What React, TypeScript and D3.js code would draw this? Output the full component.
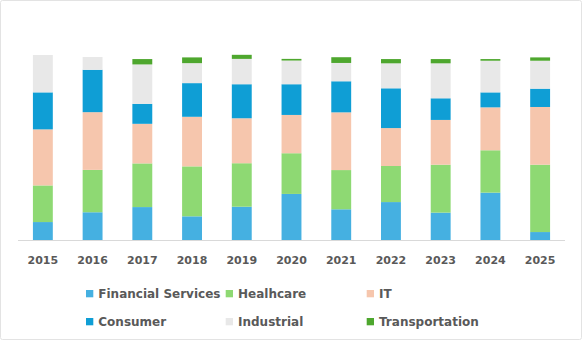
import React from "react";
import * as d3 from "d3";

const years = ["2015", "2016", "2017", "2018", "2019", "2020", "2021", "2022", "2023", "2024", "2025"];
const financialServices = [9.7, 15.0, 17.8, 12.8, 18.0, 24.9, 16.6, 20.5, 14.8, 25.6, 4.3];
const healthcare = [19.8, 22.9, 23.6, 27.0, 23.5, 22.0, 21.2, 19.5, 25.9, 22.9, 36.4];
const it = [30.3, 31.2, 21.4, 26.8, 24.3, 20.7, 31.2, 20.5, 24.2, 23.2, 31.2];
const consumer = [20.0, 22.9, 10.8, 18.2, 18.4, 16.6, 16.8, 21.5, 11.7, 8.1, 9.9];
const industrial = [20.2, 6.9, 21.3, 10.8, 13.7, 12.8, 9.9, 13.5, 18.9, 17.1, 15.1];
const transportation = [0, 0, 2.9, 3.1, 2.2, 0.9, 3.1, 2.3, 2.3, 0.9, 1.8];

const seriesNames = ["Financial Services", "Healhcare", "IT", "Consumer", "Industrial", "Transportation"];
const seriesValues = [financialServices, healthcare, it, consumer, industrial, transportation];
const colors = ["#45B0E1", "#8ED973", "#F6C6AD", "#0F9ED5", "#E8E8E8", "#4EA72E"];

export default function App() {
  const W = 583, H = 343;
  const x = d3.scaleBand<string>().domain(years).range([18, 565]).paddingInner(0.6).paddingOuter(0.3);
  const y = d3.scaleLinear().domain([0, 100]).range([240, 55]);

  const rows = years.map((yr, i) => {
    const r: any = { year: yr };
    seriesNames.forEach((s, k) => (r[s] = seriesValues[k][i]));
    return r;
  });
  const stacked = d3.stack<any>().keys(seriesNames)(rows);

  const legendPos = [
    { x: 86, y: 290 },
    { x: 225.7, y: 290 },
    { x: 366.7, y: 290 },
    { x: 86, y: 318 },
    { x: 225.7, y: 318 },
    { x: 366.7, y: 318 },
  ];
  const font = "'DejaVu Sans', sans-serif";

  return (
    <svg width={W} height={H} style={{ position: "absolute", left: 0, top: 0, background: "#fff" }}>
      <rect x={0.5} y={0.5} width={581} height={339} fill="#fff" stroke="#e3e3e3" rx={2} />
      {stacked.map((layer, k) => (
        <g key={layer.key} fill={colors[k]}>
          {layer.map((d, i) => (
            <rect
              key={i}
              x={x(years[i])}
              width={x.bandwidth()}
              y={y(d[1])}
              height={Math.max(0, y(d[0]) - y(d[1]))}
            />
          ))}
        </g>
      ))}
      <line x1={18} x2={565} y1={240.5} y2={240.5} stroke="#d9d9d9" strokeWidth={1} />
      {years.map((yr) => (
        <text
          key={yr}
          x={(x(yr) as number) + x.bandwidth() / 2}
          y={264}
          textAnchor="middle"
          fontFamily={font}
          fontWeight="bold"
          fontSize={11}
          fill="#595959"
        >
          {yr}
        </text>
      ))}
      {seriesNames.map((s, k) => (
        <g key={s}>
          <rect x={legendPos[k].x} y={legendPos[k].y} width={7.3} height={7.3} fill={colors[k]} />
          <text
            x={legendPos[k].x + 12.3}
            y={legendPos[k].y + 8}
            fontFamily={font}
            fontWeight="bold"
            fontSize={12}
            fill="#595959"
          >
            {s}
          </text>
        </g>
      ))}
    </svg>
  );
}
